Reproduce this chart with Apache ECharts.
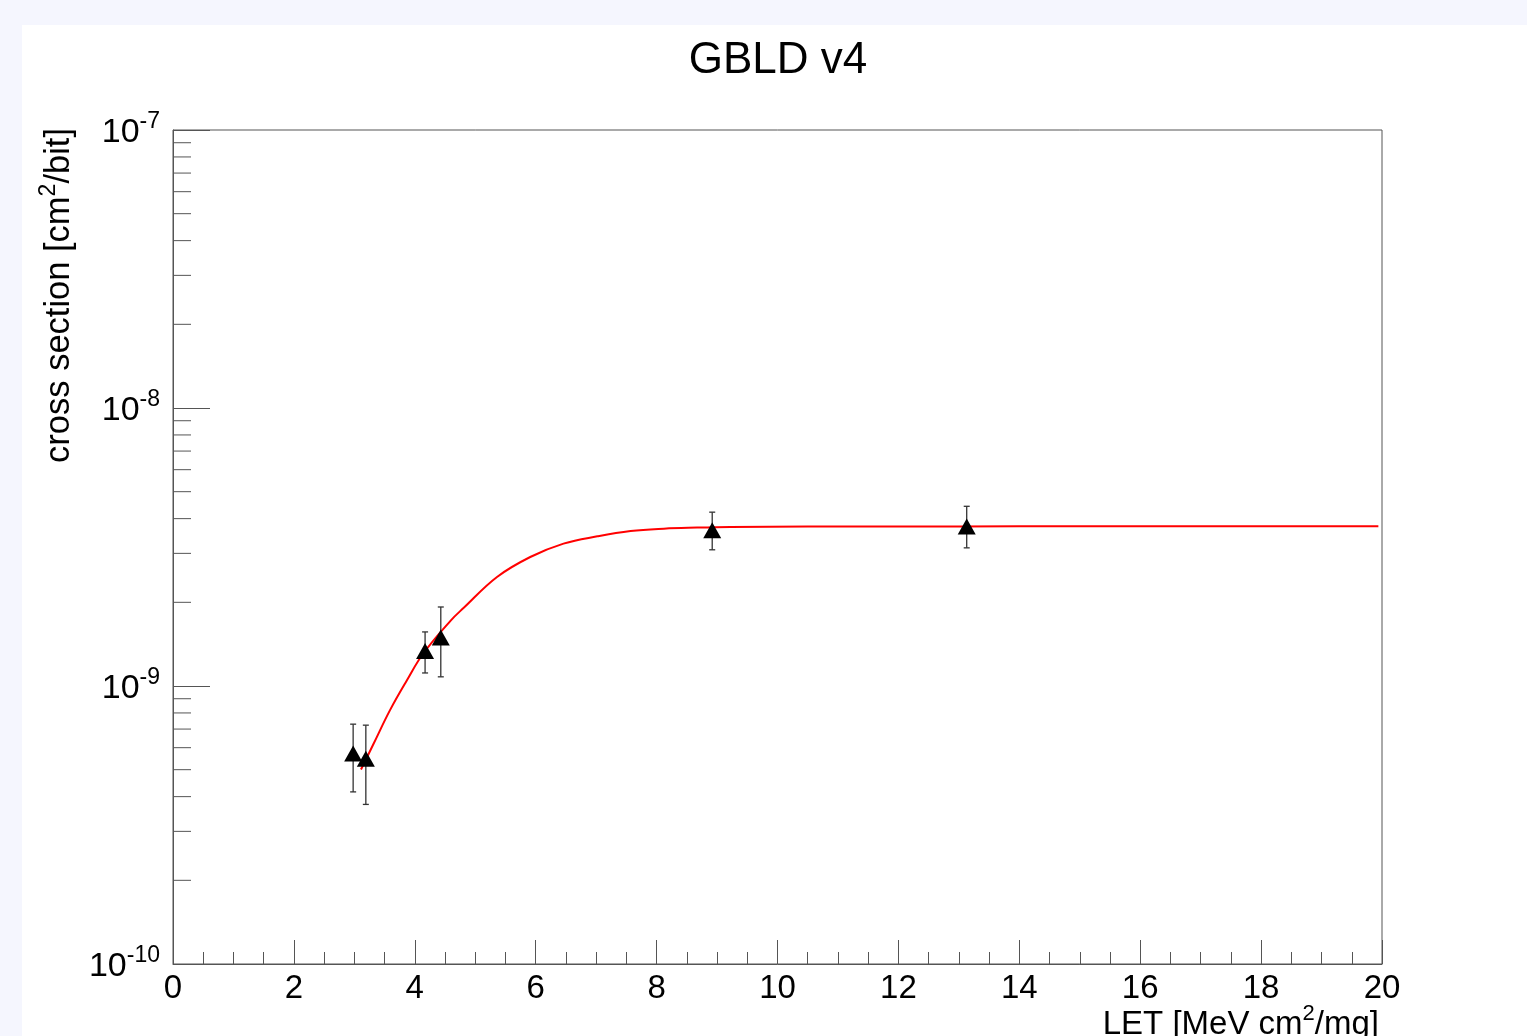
<!DOCTYPE html>
<html>
<head>
<meta charset="utf-8">
<script src="https://cdn.jsdelivr.net/npm/echarts@6/dist/echarts.min.js"></script>
<style>
html,body{margin:0;padding:0;background:#f5f6fe;}
#chart{width:1527px;height:1036px;}
</style>
</head>
<body>
<div id="chart"></div>
<script>
// ---- data ----
const titleText = 'GBLD v4';
const xTicks = [0, 2, 4, 6, 8, 10, 12, 14, 16, 18, 20];
const yDecades = [1e-10, 1e-9, 1e-8, 1e-7];
// measured points: LET, cross section
const pointX = [2.98, 3.19, 4.17, 4.43, 8.92, 13.13];
const pointY = [5.72e-10, 5.47e-10, 1.336e-9, 1.495e-9, 3.63e-9, 3.75e-9];
const errLow = [4.16e-10, 3.75e-10, 1.114e-9, 1.079e-9, 3.09e-9, 3.14e-9];
const errHigh = [7.29e-10, 7.23e-10, 1.565e-9, 1.924e-9, 4.22e-9, 4.43e-9];
// fitted curve
const fitX = [3.11, 3.32, 3.59, 3.87, 4.14, 4.59, 4.81, 5.36, 5.91, 6.46, 7.02, 7.57, 8.12, 8.67, 9.22, 10.5, 12, 14, 16, 18, 19.94];
const fitY = [5.01e-10, 6.21e-10, 8.19e-10, 1.049e-9, 1.309e-9, 1.716e-9, 1.911e-9, 2.467e-9, 2.911e-9, 3.252e-9, 3.455e-9, 3.61e-9, 3.682e-9, 3.713e-9, 3.732e-9, 3.745e-9, 3.75e-9, 3.752e-9, 3.753e-9, 3.753e-9, 3.753e-9];
// minor tick values on the log axis
const yMinor = [];
[1e-10, 1e-9, 1e-8].forEach(d => { for (let k = 2; k <= 9; k++) yMinor.push(k * d); });

const FONT = '"Liberation Sans", Arial, Helvetica, sans-serif';
const AXC = '#555';

const chart = echarts.init(document.getElementById('chart'));
const option = {
  backgroundColor: '#f5f6fe',
  animation: false,
  textStyle: { fontFamily: FONT },
  grid: { left: 173, top: 130, right: 145, bottom: 72, show: true, borderColor: AXC, borderWidth: 1, backgroundColor: 'transparent' },
  xAxis: {
    type: 'value', min: xTicks[0], max: xTicks[xTicks.length - 1], interval: 2,
    axisLine: { show: true, onZero: false, lineStyle: { color: AXC, width: 1 } },
    axisTick: { show: true, inside: true, length: 24, lineStyle: { color: AXC, width: 1 } },
    minorTick: { show: true, splitNumber: 4, length: 12, lineStyle: { color: AXC, width: 1 } },
    splitLine: { show: false },
    axisLabel: { color: '#000', fontSize: 33, margin: 8, fontFamily: FONT }
  },
  yAxis: {
    type: 'log', logBase: 10, min: yDecades[0], max: yDecades[yDecades.length - 1],
    axisLine: { show: true, lineStyle: { color: AXC, width: 1 } },
    axisTick: { show: true, inside: true, length: 37, lineStyle: { color: AXC, width: 1 } },
    splitLine: { show: false },
    axisLabel: {
      margin: 13,
      formatter: v => '{b|10}{s|' + Math.round(Math.log10(v)) + '}',
      rich: {
        b: { fontSize: 34, lineHeight: 40, verticalAlign: 'bottom', color: '#000', fontFamily: FONT },
        s: { fontSize: 23, lineHeight: 22, verticalAlign: 'top', color: '#000', fontFamily: FONT }
      }
    }
  },
  graphic: [
    { type: 'rect', z: -100, shape: { x: 22, y: 25, width: 1505, height: 1011 }, style: { fill: '#ffffff' } },
    { type: 'text', x: 778, y: 61, style: { text: titleText, fontSize: 44, fontFamily: FONT, fill: '#000', align: 'center', verticalAlign: 'middle' } },
    { type: 'text', x: 1379, y: 1022, style: {
        text: '{a|LET [MeV cm}{s|2}{a|/mg]}', align: 'right', verticalAlign: 'middle',
        rich: { a: { fontSize: 33, lineHeight: 38, verticalAlign: 'bottom', fill: '#000', fontFamily: FONT },
                s: { fontSize: 22, lineHeight: 22, verticalAlign: 'top', fill: '#000', fontFamily: FONT } } } },
    { type: 'text', x: 57, y: 128, rotation: Math.PI / 2, style: {
        text: '{a|cross section [cm}{s|2}{a|/bit]}', align: 'right', verticalAlign: 'middle',
        rich: { a: { fontSize: 34.5, lineHeight: 40, verticalAlign: 'bottom', fill: '#000', fontFamily: FONT },
                s: { fontSize: 23, lineHeight: 23, verticalAlign: 'top', fill: '#000', fontFamily: FONT } } } }
  ],
  series: [
    {
      type: 'custom', name: 'minorY', clip: false, silent: true, z: 3,
      data: yMinor.map(v => [xTicks[0], v]),
      renderItem: (params, api) => {
        const p = api.coord([api.value(0), api.value(1)]);
        return { type: 'line', shape: { x1: p[0], y1: p[1], x2: p[0] + 18, y2: p[1] }, style: { stroke: AXC, lineWidth: 1 } };
      }
    },
    {
      type: 'line', name: 'fit', data: fitX.map((x, i) => [x, fitY[i]]),
      showSymbol: false, smooth: 0.4,
      lineStyle: { color: '#ff0000', width: 2 }, z: 4
    },
    {
      type: 'custom', name: 'errors', z: 5,
      data: pointX.map((x, i) => [x, errLow[i], errHigh[i]]),
      encode: { x: 0, y: [1, 2] },
      renderItem: (params, api) => {
        const lo = api.coord([api.value(0), api.value(1)]);
        const hi = api.coord([api.value(0), api.value(2)]);
        const c = 3;
        const st = { stroke: '#333', lineWidth: 1.3 };
        return { type: 'group', children: [
          { type: 'line', shape: { x1: lo[0], y1: lo[1], x2: hi[0], y2: hi[1] }, style: st },
          { type: 'line', shape: { x1: lo[0] - c, y1: lo[1], x2: lo[0] + c, y2: lo[1] }, style: st },
          { type: 'line', shape: { x1: hi[0] - c, y1: hi[1], x2: hi[0] + c, y2: hi[1] }, style: st }
        ] };
      }
    },
    {
      type: 'scatter', name: 'data', data: pointX.map((x, i) => [x, pointY[i]]),
      symbol: 'triangle', symbolSize: [18, 16], itemStyle: { color: '#000', opacity: 1 }, z: 6
    }
  ]
};
chart.setOption(option);
</script>
</body>
</html>
